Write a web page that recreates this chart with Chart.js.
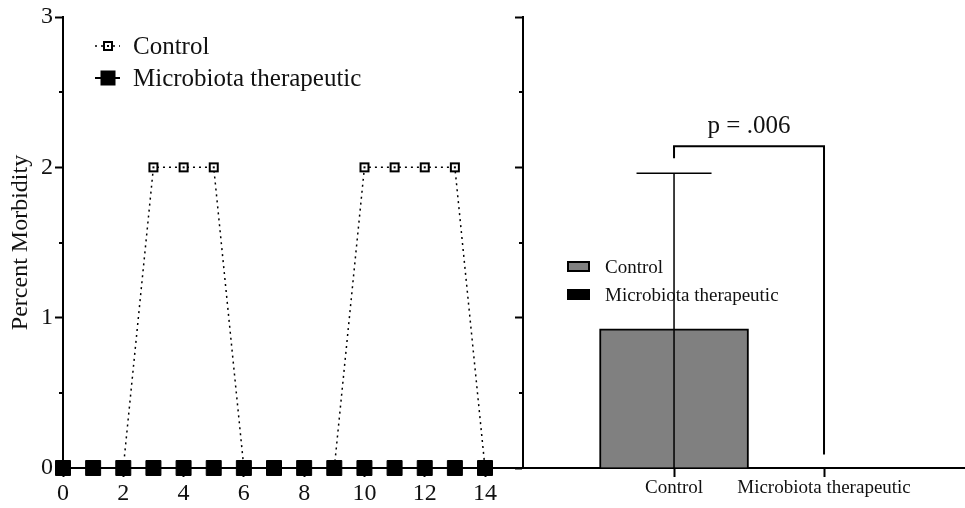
<!DOCTYPE html>
<html>
<head>
<meta charset="utf-8">
<script src="https://cdn.jsdelivr.net/npm/chart.js@4"></script>
<style>
  html, body { margin: 0; padding: 0; background: #fff; }
  #wrap { position: relative; width: 965px; height: 508px; overflow: hidden; }
  canvas { position: absolute; top: 0; }
  #timeChart { left: 0; }
  #groupChart { left: 495px; }
</style>
</head>
<body>
<div id="wrap">
  <canvas id="timeChart" width="523" height="508"></canvas>
  <canvas id="groupChart" width="470" height="508"></canvas>
</div>
<script>
// ---- data ----
const days = [0, 1, 2, 3, 4, 5, 6, 7, 8, 9, 10, 11, 12, 13, 14];
const controlMorbidity    = [0, 0, 0, 2, 2, 2, 0, 0, 0, 0, 2, 2, 2, 2, 0];
const microbiotaMorbidity = [0, 0, 0, 0, 0, 0, 0, 0, 0, 0, 0, 0, 0, 0, 0];
const seriesNames = ['Control', 'Microbiota therapeutic'];
const dayTicks = [0, 2, 4, 6, 8, 10, 12, 14];
const morbidityTicks = [0, 1, 2, 3];

const groups = ['Control', 'Microbiota therapeutic'];
const groupMeans  = [0.925, 0];
const groupErrors = [1.035, 0];
const pValueLabel = 'p = .006';
const bracketTop = 2.14;
const bracketLegEnds = [2.06, 0.09];

// ---- shared styling ----
const SERIF = "'Liberation Serif', 'Times New Roman', serif";
const INK = '#000';

// open square marker with a centre dot
function openSquare() {
  const c = document.createElement('canvas');
  c.width = 12; c.height = 12;
  const g = c.getContext('2d');
  g.fillStyle = '#fff';
  g.fillRect(1, 1, 10, 10);
  g.strokeStyle = INK;
  g.lineWidth = 2;
  g.strokeRect(2, 2, 8, 8);
  g.fillStyle = INK;
  g.fillRect(5, 5, 2, 2);
  return c;
}
const openMarker = openSquare();

// half-step ticks on the y axis, shorter than the labelled ones
const minorTicks = {
  id: 'minorTicks',
  afterDraw(chart) {
    const y = chart.scales.y, ctx = chart.ctx;
    ctx.save();
    ctx.strokeStyle = INK;
    ctx.lineWidth = 2;
    for (let v = y.min + 0.5; v < y.max; v += 1) {
      const py = Math.round(y.getPixelForValue(v));
      ctx.beginPath();
      ctx.moveTo(y.right - 4, py);
      ctx.lineTo(y.right, py);
      ctx.stroke();
    }
    ctx.restore();
  }
};

function axisGrid(len) {
  return { offset: false, drawOnChartArea: false, drawTicks: true, tickLength: len, tickWidth: 2, tickColor: INK };
}

// keep the plot area flush with the canvas edges
function flatX(s) { s.height = 40; s.paddingLeft = 0; s.paddingRight = 0; }

// ---- time course ----
const lineLegend = {
  id: 'lineLegend',
  afterDraw(chart) {
    const { ctx, chartArea } = chart;
    const lx = chartArea.left + 32, mx = chartArea.left + 45, tx = chartArea.left + 70;
    const rows = [chartArea.top + 29, chartArea.top + 61];
    ctx.save();
    ctx.strokeStyle = INK;
    // Control: dotted line, open square
    ctx.lineWidth = 1.5;
    ctx.setLineDash([2, 4]);
    ctx.beginPath(); ctx.moveTo(lx, rows[0]); ctx.lineTo(lx + 25, rows[0]); ctx.stroke();
    ctx.setLineDash([]);
    ctx.drawImage(openMarker, mx - 6, rows[0] - 6);
    // Microbiota therapeutic: solid line, filled square
    ctx.lineWidth = 2;
    ctx.beginPath(); ctx.moveTo(lx, rows[1]); ctx.lineTo(lx + 25, rows[1]); ctx.stroke();
    ctx.fillStyle = INK;
    ctx.fillRect(mx - 7.5, rows[1] - 7.5, 15, 15);
    ctx.font = '25px ' + SERIF;
    ctx.textBaseline = 'alphabetic';
    ctx.fillStyle = '#111';
    seriesNames.forEach((n, i) => ctx.fillText(n, tx, rows[i] + 8));
    ctx.restore();
  }
};

new Chart(document.getElementById('timeChart'), {
  type: 'line',
  data: {
    datasets: [
      {
        label: seriesNames[0],
        data: days.map((d, i) => ({ x: d, y: controlMorbidity[i] })),
        borderColor: INK,
        borderWidth: 1.5,
        borderDash: [2, 4],
        pointStyle: openMarker,
        pointRadius: 6,
        tension: 0,
        clip: false,
        order: 2
      },
      {
        label: seriesNames[1],
        data: days.map((d, i) => ({ x: d, y: microbiotaMorbidity[i] })),
        borderColor: INK,
        borderWidth: 2,
        pointStyle: 'rect',
        pointRadius: 10.6,
        pointBackgroundColor: INK,
        pointBorderColor: INK,
        pointBorderWidth: 1,
        tension: 0,
        clip: false,
        order: 1
      }
    ]
  },
  options: {
    responsive: false,
    animation: false,
    events: [],
    layout: { autoPadding: false, padding: { top: 17, right: 0, left: 0, bottom: 0 } },
    plugins: { legend: { display: false }, tooltip: { enabled: false } },
    scales: {
      x: {
        type: 'linear',
        min: 0,
        max: 15.26,
        offset: false,
        afterBuildTicks: s => { s.ticks = dayTicks.map(v => ({ value: v })); },
        afterFit: flatX,
        grid: axisGrid(9),
        border: { color: INK, width: 2 },
        ticks: { color: '#111', padding: 2, autoSkip: false, maxRotation: 0, font: { family: SERIF, size: 24 } }
      },
      y: {
        min: 0,
        max: 3,
        afterBuildTicks: s => { s.ticks = morbidityTicks.map(v => ({ value: v })); },
        afterFit: s => { s.width = 63; },
        grid: axisGrid(8),
        border: { color: INK, width: 2 },
        ticks: { color: '#111', padding: 2, font: { family: SERIF, size: 24 } },
        title: {
          display: true,
          text: 'Percent Morbidity',
          color: '#111',
          padding: { top: 6, bottom: 0 },
          font: { family: SERIF, size: 24, lineHeight: 1.2 }
        }
      }
    }
  },
  plugins: [minorTicks, lineLegend]
});

// ---- group comparison ----
const barColors = ['#808080', '#000000'];

const errorBars = {
  id: 'errorBars',
  afterDatasetsDraw(chart) {
    const { ctx, chartArea, scales: { x, y } } = chart;
    ctx.save();
    ctx.beginPath();
    ctx.rect(chartArea.left, chartArea.top, chartArea.width, chartArea.height);
    ctx.clip();
    ctx.strokeStyle = INK;
    ctx.lineWidth = 1.5;
    groupMeans.forEach((m, i) => {
      const e = groupErrors[i];
      if (!e) return;
      const px = x.getPixelForValue(i);
      const top = y.getPixelForValue(m + e), bot = y.getPixelForValue(m - e);
      ctx.beginPath();
      ctx.moveTo(px, bot); ctx.lineTo(px, top);
      ctx.moveTo(px - 37.5, top); ctx.lineTo(px + 37.5, top);
      ctx.moveTo(px - 37.5, bot); ctx.lineTo(px + 37.5, bot);
      ctx.stroke();
    });
    ctx.restore();
  }
};

const significance = {
  id: 'significance',
  afterDraw(chart) {
    const { ctx, scales: { x, y } } = chart;
    const x0 = x.getPixelForValue(0), x1 = x.getPixelForValue(1);
    const yt = y.getPixelForValue(bracketTop);
    ctx.save();
    ctx.strokeStyle = INK;
    ctx.lineWidth = 2;
    ctx.beginPath();
    ctx.moveTo(x0, y.getPixelForValue(bracketLegEnds[0]));
    ctx.lineTo(x0, yt);
    ctx.lineTo(x1, yt);
    ctx.lineTo(x1, y.getPixelForValue(bracketLegEnds[1]));
    ctx.stroke();
    ctx.fillStyle = '#111';
    ctx.font = '25px ' + SERIF;
    ctx.textAlign = 'center';
    ctx.textBaseline = 'alphabetic';
    ctx.fillText(pValueLabel, (x0 + x1) / 2, yt - 13);
    ctx.restore();
  }
};

const barLegend = {
  id: 'barLegend',
  afterDraw(chart) {
    const { ctx, chartArea } = chart;
    const sx = chartArea.left + 44, tx = chartArea.left + 82;
    const rows = [chartArea.top + 249.5, chartArea.top + 277.5];
    ctx.save();
    ctx.font = '19px ' + SERIF;
    ctx.textBaseline = 'alphabetic';
    groups.forEach((g, i) => {
      ctx.fillStyle = barColors[i];
      ctx.fillRect(sx, rows[i] - 5.5, 23, 11);
      ctx.strokeStyle = INK;
      ctx.lineWidth = 2;
      ctx.strokeRect(sx + 1, rows[i] - 4.5, 21, 9);
      ctx.fillStyle = '#111';
      ctx.fillText(g, tx, rows[i] + 6);
    });
    ctx.restore();
  }
};

new Chart(document.getElementById('groupChart'), {
  type: 'bar',
  data: {
    datasets: [{
      label: 'Percent Morbidity',
      data: groups.map((g, i) => ({ x: i, y: groupMeans[i] })),
      backgroundColor: barColors,
      borderColor: INK,
      borderWidth: 2,
      barThickness: 149
    }]
  },
  options: {
    responsive: false,
    animation: false,
    events: [],
    layout: { autoPadding: false, padding: { top: 17, right: 0, left: 0, bottom: 0 } },
    plugins: { legend: { display: false }, tooltip: { enabled: false } },
    scales: {
      x: {
        type: 'linear',
        min: -1.007,
        max: 1.94,
        offset: false,
        afterBuildTicks: s => { s.ticks = groups.map((g, i) => ({ value: i })); },
        afterFit: flatX,
        grid: axisGrid(9),
        border: { color: INK, width: 2 },
        ticks: {
          color: '#111', padding: 0, autoSkip: false, maxRotation: 0,
          font: { family: SERIF, size: 19 },
          callback: v => groups[v] ?? ''
        }
      },
      y: {
        min: 0,
        max: 3,
        afterBuildTicks: s => { s.ticks = morbidityTicks.map(v => ({ value: v })); },
        afterFit: s => { s.width = 28; },
        grid: axisGrid(8),
        border: { color: INK, width: 2 },
        ticks: { callback: () => '' }
      }
    }
  },
  plugins: [minorTicks, errorBars, significance, barLegend]
});
</script>
</body>
</html>
